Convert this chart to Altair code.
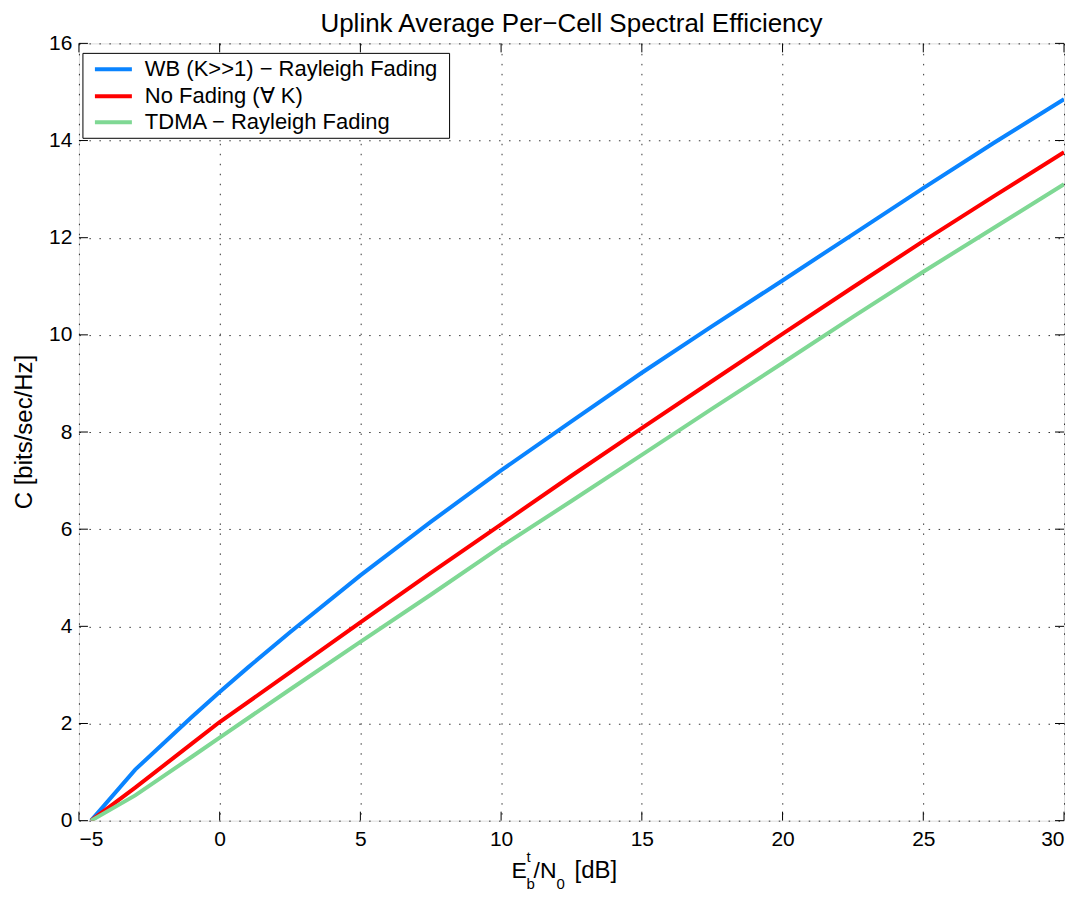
import altair as alt
import pandas as pd

# ---- data ----
series_names = ["WB (K>>1) \u2212 Rayleigh Fading", "No Fading (\u2200 K)", "TDMA \u2212 Rayleigh Fading"]
series_colors = ["#0a84ff", "#ff0000", "#7fd894"]

wb_x = [-4.57, -3, -1, 0, 1, 2.5, 5, 7.5, 10, 12.5, 15, 17.5, 20, 22.5, 25, 27.5, 30]
wb_c = [0.0, 1.05, 2.13, 2.65, 3.15, 3.88, 5.05, 6.15, 7.21, 8.22, 9.22, 10.18, 11.12, 12.07, 13.02, 13.95, 14.85]

nf_x = [-4.57, -3, -1, 0, 2.5, 5, 7.5, 10, 12.5, 15, 17.5, 20, 22.5, 25, 27.5, 30]
nf_c = [0.0, 0.68, 1.58, 2.03, 3.05, 4.08, 5.1, 6.1, 7.1, 8.08, 9.05, 10.02, 10.98, 11.93, 12.85, 13.76]

td_x = [-4.57, -3, -1, 0, 2.5, 5, 7.5, 10, 12.5, 15, 17.5, 20, 22.5, 25, 27.5, 30]
td_c = [0.0, 0.52, 1.31, 1.71, 2.7, 3.68, 4.65, 5.64, 6.58, 7.53, 8.48, 9.42, 10.37, 11.3, 12.2, 13.1]

x_ticks = [-5, 0, 5, 10, 15, 20, 25, 30]
y_ticks = [0, 2, 4, 6, 8, 10, 12, 14, 16]

title_text = "Uplink Average Per\u2212Cell Spectral Efficiency"
y_title = "C [bits/sec/Hz]"

W, H = 986, 778
FONT = "Liberation Sans"

rows = []
for name, xs, cs in zip(series_names, [wb_x, nf_x, td_x], [wb_c, nf_c, td_c]):
    for xv, cv in zip(xs, cs):
        rows.append({"x": xv, "C": cv, "series": name})
df = pd.DataFrame(rows)

xscale = alt.Scale(domain=[-5, 30], nice=False, zero=False)
yscale = alt.Scale(domain=[0, 16], nice=False)

grid_kw = dict(grid=True, gridColor="#000000", gridDash=[1.5, 8.5], gridOpacity=0.8,
               ticks=False, domain=False, labelFontSize=21, labelFont=FONT, labelColor="black",
               title=None)

base = alt.Chart(df)

lines = base.mark_line(strokeWidth=4, clip=True).encode(
    x=alt.X("x:Q", scale=xscale, axis=alt.Axis(values=x_ticks, labelPadding=8, **grid_kw)),
    y=alt.Y("C:Q", scale=yscale, axis=alt.Axis(values=y_ticks, labelPadding=7, **grid_kw)),
    color=alt.Color("series:N", scale=alt.Scale(domain=series_names, range=series_colors), legend=None),
)

# inward ticks on all four sides
xt = pd.DataFrame({"t": x_ticks})
yt = pd.DataFrame({"t": y_ticks})
tick_layers = [
    alt.Chart(xt).mark_rule(color="black", strokeWidth=1).encode(
        x=alt.X("t:Q", scale=xscale), y=alt.value(H), y2=alt.value(H - 9)),
    alt.Chart(xt).mark_rule(color="black", strokeWidth=1).encode(
        x=alt.X("t:Q", scale=xscale), y=alt.value(0), y2=alt.value(9)),
    alt.Chart(yt).mark_rule(color="black", strokeWidth=1).encode(
        y=alt.Y("t:Q", scale=yscale), x=alt.value(0), x2=alt.value(9)),
    alt.Chart(yt).mark_rule(color="black", strokeWidth=1).encode(
        y=alt.Y("t:Q", scale=yscale), x=alt.value(W), x2=alt.value(W - 9)),
]

def txt(s, x, y, size, angle=0, align="left"):
    kw = dict(fontSize=size, font=FONT, color="black", align=align, baseline="alphabetic")
    if angle:
        kw["angle"] = angle
    return alt.Chart(pd.DataFrame({"t": [s]})).mark_text(**kw).encode(
        text="t:N", x=alt.value(x), y=alt.value(y))

# title and y title
title = txt(title_text, W / 2, -11, 26, align="center")
ytitle = txt(y_title, -47, H / 2, 24, angle=270, align="center")

# x-axis title with sub/superscripts
xtitle = [
    txt("E", 433, 835, 23),
    txt("t", 448, 819, 15),
    txt("b", 448, 846, 15),
    txt("/N", 455, 835, 23),
    txt("0", 478, 846, 15),
    txt("[dB]", 496, 835, 24),
]

# legend box
lx0, ly0, lx1, ly1 = 4, 10, 371, 95
legend_box = alt.Chart(pd.DataFrame({"a": [0]})).mark_rect(
    fill="white", stroke="black", strokeWidth=1
).encode(x=alt.value(lx0), x2=alt.value(lx1), y=alt.value(ly0), y2=alt.value(ly1))

legend_layers = [legend_box]
row_y = [26, 53, 79]
for name, col, ry in zip(series_names, series_colors, row_y):
    legend_layers.append(
        alt.Chart(pd.DataFrame({"s": [name]})).mark_rule(strokeWidth=4, color=col).encode(
            x=alt.value(16), x2=alt.value(53), y=alt.value(ry)))
    legend_layers.append(txt(name, 66, ry + 6.5, 22))

chart = alt.layer(lines, *tick_layers, title, ytitle, *xtitle, *legend_layers).properties(
    width=W, height=H,
    autosize=alt.AutoSizeParams(type="none"),
    padding={"left": 71, "top": 35, "right": 10, "bottom": 73},
).configure_view(stroke="black", strokeWidth=1).configure(background="white")

chart.save("out.html", embed_options={"renderer": "svg", "actions": False})
